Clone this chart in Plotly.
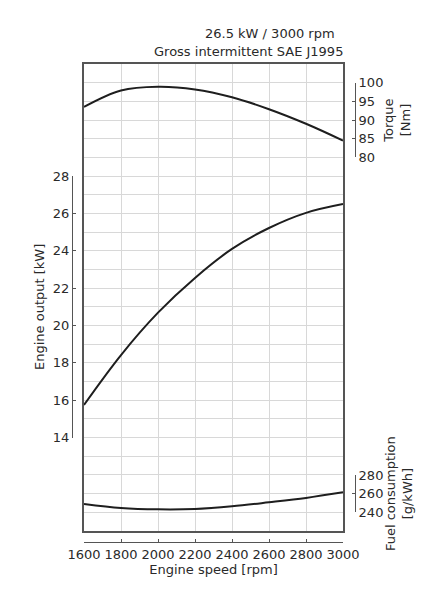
import plotly.graph_objects as go

# ---- data ----
rpm = [1600, 1800, 2000, 2200, 2400, 2600, 2800, 3000]
torque_nm = [93.5, 97.9, 98.9, 98.2, 96.1, 92.9, 89.0, 84.5]
power_kw = [15.75, 18.42, 20.69, 22.55, 24.1, 25.22, 26.03, 26.5]
fuel_gkwh = [249.0, 244.7, 243.2, 243.6, 246.4, 250.7, 255.4, 261.4]

rpm_ticks = [1600, 1800, 2000, 2200, 2400, 2600, 2800, 3000]
kw_ticks = [14, 16, 18, 20, 22, 24, 26, 28]
nm_ticks = [80, 85, 90, 95, 100]
fuel_ticks = [240, 260, 280]

title_line1 = "26.5 kW / 3000 rpm"
title_line2 = "Gross intermittent SAE J1995"

# ---- layout constants ----
W, H = 448, 614
FONT = "DejaVu Sans"
FS = 13
TXT = "#2a2a2a"
AX = "#555555"
GRID = "#d8d8d8"

grid_kw = (9, 34)          # full-height ranges for each quantity
grid_nm = (-20, 105)
grid_fuel = (220, 720)

ml, mr, mt, mb = 72, 93, 64, 72
pw = W - ml - mr
ph = H - mt - mb
x_dom = [(84 - ml) / pw, (343 - ml) / pw]
y_dom0 = (H - mb - 531) / ph
y_dom = [y_dom0, 1.0]


def frac(v, rng):
    return y_dom0 + (v - rng[0]) / (rng[1] - rng[0]) * (1 - y_dom0)


def sub_dom(ticks, rng):
    return [frac(min(ticks), rng), frac(max(ticks), rng)]


fig = go.Figure()

# invisible anchor for grid/frame axes
fig.add_trace(go.Scatter(x=[rpm[0], rpm[-1]], y=list(grid_kw), mode="markers",
                         marker=dict(opacity=0), hoverinfo="skip",
                         showlegend=False, xaxis="x", yaxis="y"))

line = dict(color="#1e1e1e", width=2, shape="spline")
fig.add_trace(go.Scatter(x=rpm, y=torque_nm, mode="lines", line=line,
                         xaxis="x2", yaxis="y3", showlegend=False))
fig.add_trace(go.Scatter(x=rpm, y=power_kw, mode="lines", line=line,
                         xaxis="x2", yaxis="y2", showlegend=False))
fig.add_trace(go.Scatter(x=rpm, y=fuel_gkwh, mode="lines", line=line,
                         xaxis="x2", yaxis="y4", showlegend=False))

tickfont = dict(family=FONT, size=FS, color=TXT)
titlefont = dict(family=FONT, size=FS, color=TXT)

fig.update_layout(
    width=W, height=H,
    margin=dict(l=ml, r=mr, t=mt, b=mb),
    paper_bgcolor="white", plot_bgcolor="rgba(0,0,0,0)",
    font=dict(family=FONT, size=FS, color=TXT),
    xaxis=dict(domain=x_dom, range=[rpm_ticks[0], rpm_ticks[-1]], anchor="y",
               dtick=200, tick0=1600, showgrid=True, gridcolor=GRID, gridwidth=1.2,
               showticklabels=False, ticks="", showline=True, linecolor=AX,
               linewidth=2, mirror=True, zeroline=False),
    xaxis2=dict(overlaying="x", range=[rpm_ticks[0], rpm_ticks[-1]],
                anchor="free", position=0, side="bottom",
                tickvals=rpm_ticks, ticks="inside", ticklen=3, tickcolor=AX,
                showline=True, linecolor=AX, linewidth=1, showgrid=False,
                zeroline=False, tickfont=tickfont,
                title=dict(text="Engine speed [rpm]", font=titlefont, standoff=3)),
    yaxis=dict(domain=y_dom, range=list(grid_kw), anchor="x", dtick=1, tick0=9,
               showgrid=True, gridcolor=GRID, gridwidth=1.2, showticklabels=False,
               ticks="", showline=True, linecolor=AX, linewidth=2, mirror=True,
               zeroline=False),
    yaxis2=dict(domain=sub_dom(kw_ticks, grid_kw),
                range=[min(kw_ticks), max(kw_ticks)], anchor="free", position=0,
                side="left", tickvals=kw_ticks, ticks="inside", ticklen=3,
                tickcolor=AX, showline=True, linecolor=AX, linewidth=1,
                showgrid=False, zeroline=False, tickfont=tickfont,
                title=dict(text="Engine output [kW]", font=titlefont, standoff=4)),
    yaxis3=dict(domain=sub_dom(nm_ticks, grid_nm),
                range=[min(nm_ticks), max(nm_ticks)], anchor="free", position=1,
                side="right", tickvals=nm_ticks, ticks="inside", ticklen=3,
                tickcolor=AX, showline=True, linecolor=AX, linewidth=1,
                showgrid=False, zeroline=False, tickfont=tickfont,
                title=dict(text="Torque<br>[Nm]", font=titlefont, standoff=1)),
    yaxis4=dict(domain=sub_dom(fuel_ticks, grid_fuel),
                range=[min(fuel_ticks), max(fuel_ticks)], anchor="free", position=1,
                side="right", tickvals=fuel_ticks, ticks="inside", ticklen=3,
                tickcolor=AX, showline=True, linecolor=AX, linewidth=1,
                showgrid=False, zeroline=False, tickfont=tickfont,
                title=dict(text="Fuel consumption<br>[g/kWh]", font=titlefont,
                           standoff=0)),
    annotations=[
        dict(text=title_line1, xref="paper", yref="paper", x=(337 - ml) / pw,
             y=(H - mb - 33) / ph, xanchor="right", yanchor="middle",
             showarrow=False, font=dict(family=FONT, size=FS, color=TXT)),
        dict(text=title_line2, xref="paper", yref="paper", x=(345 - ml) / pw,
             y=(H - mb - 51) / ph, xanchor="right", yanchor="middle",
             showarrow=False, font=dict(family=FONT, size=FS, color=TXT)),
    ],
)

fig.write_html("out.html", config={"displayModeBar": False},
               post_script="document.body.style.margin='0';")
